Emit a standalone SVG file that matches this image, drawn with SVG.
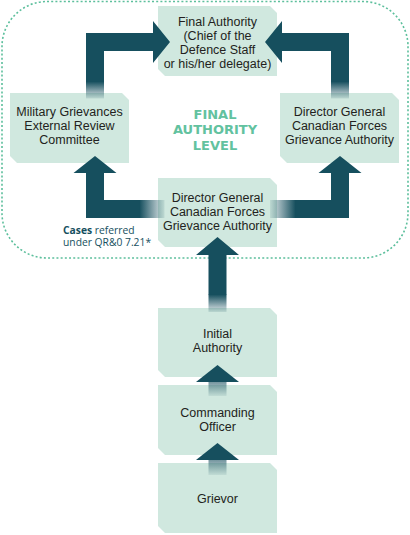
<svg xmlns="http://www.w3.org/2000/svg" width="410" height="535" viewBox="0 0 410 535">
<defs>
<linearGradient id="fadeDown" x1="0" y1="0" x2="0" y2="1">
<stop offset="0" stop-color="#164f5e" stop-opacity="1"/>
<stop offset="1" stop-color="#164f5e" stop-opacity="0.12"/>
</linearGradient>
<linearGradient id="fadeRight" x1="0" y1="0" x2="1" y2="0">
<stop offset="0" stop-color="#164f5e" stop-opacity="1"/>
<stop offset="1" stop-color="#164f5e" stop-opacity="0.1"/>
</linearGradient>
<linearGradient id="fadeLeft" x1="1" y1="0" x2="0" y2="0">
<stop offset="0" stop-color="#164f5e" stop-opacity="1"/>
<stop offset="1" stop-color="#164f5e" stop-opacity="0.1"/>
</linearGradient>
<linearGradient id="fadeSmall" x1="0" y1="0" x2="0" y2="1">
<stop offset="0" stop-color="#164f5e" stop-opacity="0.6"/>
<stop offset="1" stop-color="#164f5e" stop-opacity="0.08"/>
</linearGradient>
</defs>
<style>
.box{fill:#d0e8df}
.t{font-family:"Liberation Sans",Arial,sans-serif;font-size:12.5px;fill:#231f20;text-anchor:middle}
.title{font-family:"DejaVu Sans","Open Sans",sans-serif;font-size:13px;font-weight:700;fill:#62c29f;text-anchor:middle}
.note{font-family:"Open Sans","Noto Sans",sans-serif;font-size:10.3px;fill:#164f5e}
.arrow{fill:#164f5e}
.border{fill:none;stroke:#5cbf9c;stroke-width:1.6;stroke-dasharray:2 2.2}
</style>
<rect id="final-level-area" class="border" x="2" y="1.5" width="406" height="256.5" rx="45" ry="45"/>
<text class="title" x="215" y="118.5">FINAL<tspan x="215" dy="15.7">AUTHORITY</tspan><tspan x="215" dy="15.7">LEVEL</tspan></text>

<g id="final-authority">
<polygon class="box" points="158,6 270,6 277,13 277,76 165,76 158,69"/>
<text class="t" x="217.5" y="25.5">Final Authority<tspan x="217.5" dy="14">(Chief of the</tspan><tspan x="217.5" dy="14">Defence Staff</tspan><tspan x="217.5" dy="14">or his/her delegate)</tspan></text>
</g>
<g id="mgerc">
<polygon class="box" points="10,93 122,93 129,100 129,163 17,163 10,156"/>
<text class="t" x="69.5" y="116">Military Grievances<tspan x="69.5" dy="14">External Review</tspan><tspan x="69.5" dy="14">Committee</tspan></text>
</g>
<g id="dgcfga-right">
<polygon class="box" points="280,93 392,93 399,100 399,163 287,163 280,156"/>
<text class="t" x="339.5" y="116">Director General<tspan x="339.5" dy="14">Canadian Forces</tspan><tspan x="339.5" dy="14">Grievance Authority</tspan></text>
</g>
<g id="dgcfga-center">
<polygon class="box" points="158,178 270,178 277,185 277,247 165,247 158,240"/>
<text class="t" x="217.5" y="201.5">Director General<tspan x="217.5" dy="14">Canadian Forces</tspan><tspan x="217.5" dy="14">Grievance Authority</tspan></text>
</g>
<g id="initial-authority">
<polygon class="box" points="158,308 270,308 277,315 277,377 165,377 158,370"/>
<text class="t" x="217.5" y="338">Initial<tspan x="217.5" dy="14">Authority</tspan></text>
</g>
<g id="commanding-officer">
<polygon class="box" points="158,385 270,385 277,392 277,455 165,455 158,448"/>
<text class="t" x="217.5" y="416.5">Commanding<tspan x="217.5" dy="14">Officer</tspan></text>
</g>
<g id="grievor">
<polygon class="box" points="158,463 270,463 277,470 277,533 165,533 158,526"/>
<text class="t" x="217.5" y="503">Grievor</text>
</g>

<g id="connectors">
<polygon class="arrow" points="86,82 86,33 153,33 153,21 170,42 153,63 153,51 104,51 104,82"/>
<rect x="86" y="81.5" width="18" height="17" fill="url(#fadeDown)"/>
<polygon class="arrow" points="349,82 349,33 282,33 282,21 265,42 282,63 282,51 331,51 331,82"/>
<rect x="331" y="81.5" width="18" height="17" fill="url(#fadeDown)"/>
<polygon class="arrow" points="140,218 86,218 86,173 73.5,173 95,156 116.5,173 104,173 104,200 140,200"/>
<rect x="139.5" y="200" width="25" height="18" fill="url(#fadeRight)"/>
<polygon class="arrow" points="295,200 331,200 331,173 318.5,173 340,156 361.5,173 349,173 349,218 295,218"/>
<rect x="270" y="200" width="25.5" height="18" fill="url(#fadeLeft)"/>
<polygon class="arrow" points="208.5,295 208.5,255 196,255 217.5,237 239,255 226.5,255 226.5,295"/>
<rect x="208.5" y="294.5" width="18" height="17.5" fill="url(#fadeDown)"/>
<polygon class="arrow" points="196,382 217.5,365 239,382"/>
<rect x="208.5" y="382" width="18" height="14" fill="url(#fadeSmall)"/>
<polygon class="arrow" points="196,460 217.5,443 239,460"/>
<rect x="208.5" y="460" width="18" height="15" fill="url(#fadeSmall)"/>
</g>

<g id="note-cases-referred">
<text class="note" x="63" y="233.5"><tspan font-weight="700">Cases</tspan> referred<tspan x="63" dy="12.5">under QR&amp;0 7.21*</tspan></text>
</g>
</svg>
